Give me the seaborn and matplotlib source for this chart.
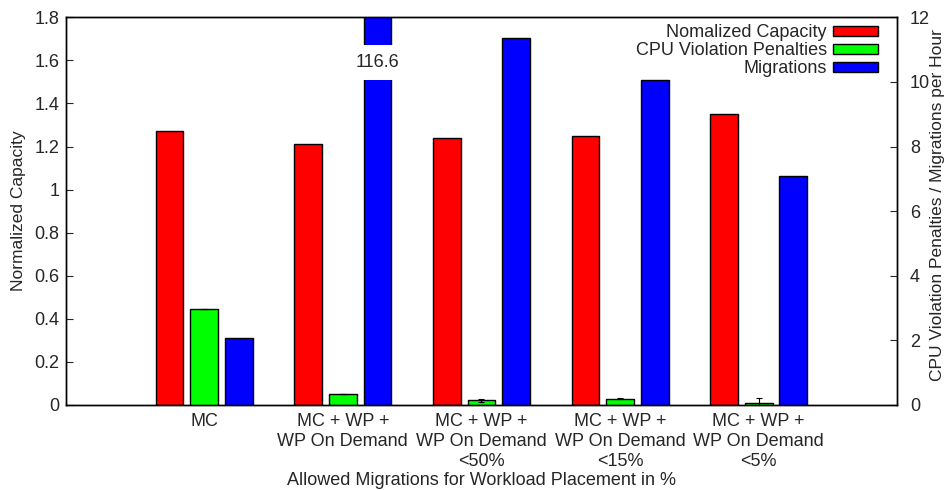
import matplotlib
matplotlib.use("Agg")
import matplotlib.pyplot as plt
from matplotlib.ticker import FormatStrFormatter, MultipleLocator
import numpy as np
import seaborn as sns

# valores
groups = ["MC",
          "MC + WP +\nWP On Demand",
          "MC + WP +\nWP On Demand\n<50%",
          "MC + WP +\nWP On Demand\n<15%",
          "MC + WP +\nWP On Demand\n<5%"]
capacity = [1.27, 1.21, 1.24, 1.25, 1.35]          # eixo esquerdo
penalties = [2.97, 0.34, 0.14, 0.20, 0.07]         # eixo direito
penalties_err = [0.0, 0.0, 0.06, 0.03, 0.15]
migrations = [2.06, 116.6, 11.35, 10.06, 7.09]     # eixo direito (116.6 cortado)

sns.set_style("ticks")
plt.rcParams['font.family'] = ['Liberation Sans', 'DejaVu Sans']
plt.rcParams['font.size'] = 13

pos = np.arange(len(groups))

fig = plt.figure(figsize=(9.49, 4.9), dpi=100)
ax = fig.add_axes([0.0692, 0.1735, 0.8763, 0.7912])
ax2 = ax.twinx()

sns.barplot(x=pos - 0.25, y=capacity, native_scale=True, width=0.2, color="#ff0000",
            saturation=1, edgecolor="black", linewidth=1, errorbar=None,
            label="Nomalized Capacity", ax=ax)
sns.barplot(x=pos, y=penalties, native_scale=True, width=0.2, color="#00ff00",
            saturation=1, edgecolor="black", linewidth=1, errorbar=None,
            label="CPU Violation Penalties", ax=ax2)
sns.barplot(x=pos + 0.25, y=migrations, native_scale=True, width=0.2, color="#0000ff",
            saturation=1, edgecolor="black", linewidth=1, errorbar=None,
            label="Migrations", ax=ax2)
ax2.errorbar(pos, penalties, yerr=penalties_err, fmt="none", ecolor="black",
             elinewidth=0.8, capsize=2, capthick=0.8)

# valor da barra cortada
i_max = int(np.argmax(migrations))
ax2.text(pos[i_max] + 0.25, 10.6, "%.1f" % migrations[i_max], ha="center", va="center",
         fontsize=13, bbox=dict(facecolor="white", edgecolor="none", pad=6.5))

ax.set_xlim(-1, 5)
ax.set_ylim(0, 1.8)
ax2.set_ylim(0, 12)
ax.set_xticks(pos)
ax.set_xticklabels(groups, linespacing=1.2)
ax.yaxis.set_major_locator(MultipleLocator(0.2))
ax.yaxis.set_major_formatter(FormatStrFormatter('%g'))
ax2.yaxis.set_major_locator(MultipleLocator(2))
ax2.yaxis.set_major_formatter(FormatStrFormatter('%g'))

ax.tick_params(axis="x", length=0, pad=6)
ax.tick_params(axis="y", direction="in", length=5, width=0.8, pad=4.5)
ax2.tick_params(axis="y", direction="in", length=5, width=0.8, pad=9)
for a in (ax, ax2):
    for s in a.spines.values():
        s.set_visible(True)
        s.set_linewidth(1)
        s.set_color("black")

ax.set_xlabel("Allowed Migrations for Workload Placement in %", labelpad=2)
ax.set_ylabel("Normalized Capacity", labelpad=6, fontsize=12.5)
ax2.set_ylabel("CPU Violation Penalties / Migrations per Hour", fontsize=12.5)
ax2.yaxis.set_label_coords(1.0393, 0.516)

# seaborn cria legendas separadas; junta tudo numa so
for a in (ax, ax2):
    if a.get_legend() is not None:
        a.get_legend().remove()
h1, l1 = ax.get_legend_handles_labels()
h2, l2 = ax2.get_legend_handles_labels()
ax2.legend(h1 + h2, l1 + l2, loc="upper right", bbox_to_anchor=(0.977, 0.982),
           frameon=False, markerfirst=False, handlelength=2.5, handleheight=0.45,
           handletextpad=0.35, labelspacing=0.05, borderpad=0, borderaxespad=0,
           fontsize=13)

plt.savefig("out.png", dpi=100)
